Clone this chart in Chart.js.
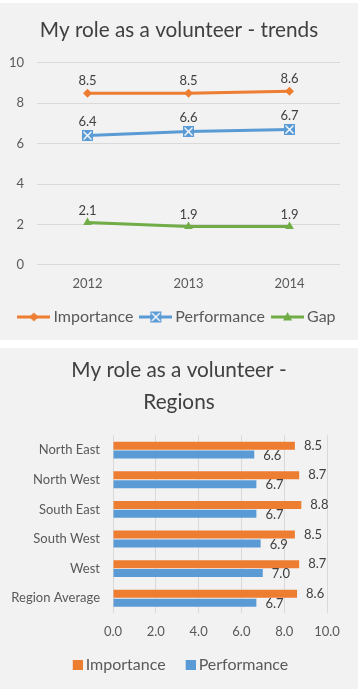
<!DOCTYPE html>
<html><head><meta charset="utf-8">
<script src="https://cdn.jsdelivr.net/npm/chart.js@4.4.1/dist/chart.umd.min.js"></script>
<style>
html,body{margin:0;padding:0;background:#fff;}
#p1{position:absolute;left:0;top:3px;width:358px;height:337px;background:#f2f2f2;}
#p2{position:absolute;left:0;top:348px;width:358px;height:341px;background:#f2f2f2;}
canvas{display:block;}
</style></head><body>
<div id="p1"><canvas id="c1" width="358" height="337"></canvas></div>
<div id="p2"><canvas id="c2" width="358" height="341"></canvas></div>
<script>
// ---- data ----
const years = ['2012', '2013', '2014'];
const importanceTrend = [8.5, 8.5, 8.6];
const performanceTrend = [6.4, 6.6, 6.7];
const gapTrend = [2.1, 1.9, 1.9];

const regions = ['North East', 'North West', 'South East', 'South West', 'West', 'Region Average'];
const importanceRegion = [8.5, 8.7, 8.8, 8.5, 8.7, 8.6];
const performanceRegion = [6.6, 6.7, 6.7, 6.9, 7.0, 6.7];

const seriesNames = ['Importance', 'Performance', 'Gap'];

// ---- styles ----
const FONT = 'Lato';
const ORANGE = '#ED7D31', BLUE = '#5B9BD5', GREEN = '#70AD47';
const TXT = '#595959', LBL = '#404040', GRID = '#D9D9D9';

function drawXBox(g, cx, cy, s) {
  const h = s / 2;
  g.fillStyle = BLUE;
  g.fillRect(cx - h, cy - h, s, s);
  g.strokeStyle = '#ffffff';
  g.lineWidth = 1.3;
  g.beginPath();
  g.moveTo(cx - h + 1.5, cy - h + 1.5); g.lineTo(cx + h - 1.5, cy + h - 1.5);
  g.moveTo(cx + h - 1.5, cy - h + 1.5); g.lineTo(cx - h + 1.5, cy + h - 1.5);
  g.stroke();
}
function xBoxMarker(s) {
  const c = document.createElement('canvas');
  c.width = s; c.height = s;
  drawXBox(c.getContext('2d'), s / 2, s / 2, s);
  return c;
}
function legendLine(color, kind) {
  const w = 33, hgt = 14;
  const c = document.createElement('canvas');
  c.width = w; c.height = hgt;
  const g = c.getContext('2d');
  g.strokeStyle = color; g.lineWidth = 3;
  g.beginPath(); g.moveTo(0, hgt / 2); g.lineTo(w, hgt / 2); g.stroke();
  const cx = w / 2, cy = hgt / 2;
  g.fillStyle = color;
  if (kind === 'diamond') {
    g.beginPath(); g.moveTo(cx - 4.5, cy); g.lineTo(cx, cy - 4.5); g.lineTo(cx + 4.5, cy); g.lineTo(cx, cy + 4.5); g.closePath(); g.fill();
  } else if (kind === 'xbox') {
    drawXBox(g, cx, cy, 11);
  } else {
    g.beginPath(); g.moveTo(cx, cy - 5); g.lineTo(cx + 4.5, cy + 3.5); g.lineTo(cx - 4.5, cy + 3.5); g.closePath(); g.fill();
  }
  return c;
}
function squareMarker(color) {
  // 18px wide image, visible 10x10 square at its right end
  const c = document.createElement('canvas');
  c.width = 18; c.height = 10;
  const g = c.getContext('2d');
  g.fillStyle = color; g.fillRect(8, 0, 10, 10);
  return c;
}

const valueLabels = {
  id: 'valueLabels',
  afterDatasetsDraw(chart, args, opts) {
    const ctx = chart.ctx;
    ctx.save();
    ctx.font = opts.font;
    ctx.fillStyle = opts.color;
    ctx.textBaseline = 'middle';
    chart.data.datasets.forEach((ds, i) => {
      const meta = chart.getDatasetMeta(i);
      meta.data.forEach((el, j) => {
        const txt = Number(ds.data[j]).toFixed(1);
        if (opts.horizontal) {
          ctx.textAlign = 'left';
          ctx.fillText(txt, el.x + opts.dx, el.y + (opts.dy ? opts.dy[i] : 0));
        } else {
          ctx.textAlign = 'center';
          ctx.fillText(txt, el.x, el.y + opts.dy[i]);
        }
      });
    });
    ctx.restore();
  }
};

const legendImgs = [legendLine(ORANGE, 'diamond'), legendLine(BLUE, 'xbox'), legendLine(GREEN, 'tri')];

new Chart(document.getElementById('c1'), {
  type: 'line',
  data: {
    labels: years,
    datasets: [
      { label: seriesNames[0], data: importanceTrend, borderColor: ORANGE, backgroundColor: ORANGE, borderWidth: 3,
        pointStyle: 'rectRot', pointRadius: 4.5, pointBorderWidth: 0, pointBackgroundColor: ORANGE },
      { label: seriesNames[1], data: performanceTrend, borderColor: BLUE, backgroundColor: BLUE, borderWidth: 3,
        pointStyle: xBoxMarker(11), pointRadius: 5.5 },
      { label: seriesNames[2], data: gapTrend, borderColor: GREEN, backgroundColor: GREEN, borderWidth: 3,
        pointStyle: 'triangle', pointRadius: 5, pointBorderWidth: 0, pointBackgroundColor: GREEN }
    ]
  },
  options: {
    responsive: false,
    animation: false,
    events: [],
    layout: { padding: { left: 0, right: 0, top: 0, bottom: 5 } },
    scales: {
      x: {
        offset: true,
        grid: { display: false, drawTicks: false },
        border: { display: false },
        ticks: { color: TXT, font: { family: FONT, size: 13 }, padding: 11 },
        afterFit(s) { s.height -= 4.5; }
      },
      y: {
        min: 0, max: 10,
        ticks: { stepSize: 2, color: TXT, font: { family: FONT, size: 13 }, padding: 13 },
        grid: { color: GRID, drawTicks: false },
        border: { display: false },
        afterFit(s) { s.width = 37; }
      },
      yR: {
        type: 'linear', position: 'right', display: true,
        grid: { display: false, drawTicks: false }, border: { display: false }, ticks: { display: false },
        afterFit(s) { s.width = 18; }
      }
    },
    plugins: {
      title: { display: true, text: 'My role as a volunteer - trends', color: LBL,
        font: { family: FONT, size: 20.75, weight: 'normal' }, padding: { top: 15, bottom: 20 } },
      legend: {
        position: 'bottom',
        labels: {
          usePointStyle: true, pointStyleWidth: 23, padding: 11,
          color: TXT, font: { family: FONT, size: 16 },
          generateLabels(chart) {
            return chart.data.datasets.map((ds, i) => ({
              text: ds.label, pointStyle: legendImgs[i], fillStyle: ds.borderColor,
              strokeStyle: ds.borderColor, lineWidth: 0, hidden: false, datasetIndex: i, fontColor: TXT
            }));
          }
        }
      },
      tooltip: { enabled: false },
      valueLabels: { font: '13px ' + FONT, color: LBL, dy: [-12, -14, -12] }
    }
  },
  plugins: [valueLabels]
});

const sqImgs = [squareMarker(ORANGE), squareMarker(BLUE)];

new Chart(document.getElementById('c2'), {
  type: 'bar',
  data: {
    labels: regions,
    datasets: [
      { label: seriesNames[0], data: importanceRegion, backgroundColor: ORANGE, categoryPercentage: 0.6, barPercentage: 0.9 },
      { label: seriesNames[1], data: performanceRegion, backgroundColor: BLUE, categoryPercentage: 0.6, barPercentage: 0.9 }
    ]
  },
  options: {
    indexAxis: 'y',
    responsive: false,
    animation: false,
    events: [],
    layout: { padding: { left: 0, right: 0, top: 0, bottom: 6 } },
    scales: {
      x: {
        min: 0, max: 10,
        ticks: { stepSize: 2, color: TXT, font: { family: FONT, size: 13 }, padding: 11,
          callback: v => Number(v).toFixed(1) },
        grid: { color: GRID, drawTicks: false },
        border: { display: false },
        afterFit(s) { s.height -= 10.6; }
      },
      y: {
        grid: { display: false, drawTicks: false },
        border: { display: false },
        ticks: { color: TXT, font: { family: FONT, size: 13 }, padding: 13 },
        afterFit(s) { s.width = 113; }
      },
      yR: {
        type: 'linear', axis: 'y', position: 'right', display: true,
        grid: { display: false, drawTicks: false }, border: { display: false }, ticks: { display: false },
        afterFit(s) { s.width = 31; }
      }
    },
    plugins: {
      title: { display: true, text: ['My role as a volunteer -', 'Regions'], color: LBL,
        font: { family: FONT, size: 20.75, weight: 'normal', lineHeight: 1.55 }, padding: { top: 6, bottom: 17 } },
      legend: {
        position: 'bottom',
        labels: {
          usePointStyle: true, pointStyleWidth: 8, padding: 17,
          color: TXT, font: { family: FONT, size: 16 },
          generateLabels(chart) {
            return chart.data.datasets.map((ds, i) => ({
              text: ds.label, pointStyle: sqImgs[i], fillStyle: ds.backgroundColor,
              strokeStyle: ds.backgroundColor, lineWidth: 0, hidden: false, datasetIndex: i, fontColor: TXT
            }));
          }
        }
      },
      tooltip: { enabled: false },
      valueLabels: { horizontal: true, font: '13px ' + FONT, color: LBL, dx: 9, dy: [0, 1] }
    }
  },
  plugins: [valueLabels]
});
</script>
</body></html>
